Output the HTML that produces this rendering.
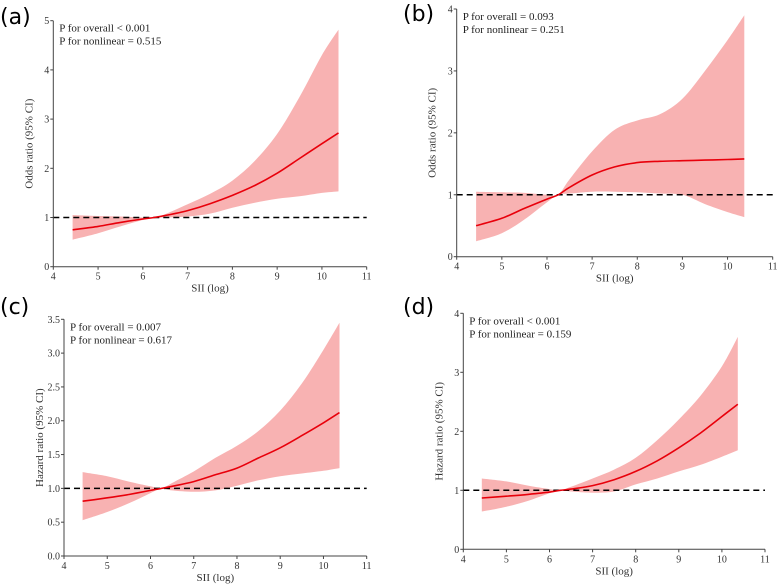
<!DOCTYPE html>
<html><head><meta charset="utf-8"><style>
html,body{margin:0;padding:0;background:#fff;}
svg{display:block;font-family:"Liberation Serif",serif;}
.pl{font-family:"DejaVu Sans","Liberation Sans",sans-serif;font-size:22px;}
</style></head><body>
<svg id="chart" width="777" height="584" viewBox="0 0 777 584"></svg>
<script>
const xs = [4.43,5,5.5,6,6.25,6.5,7,7.5,8,8.5,9,9.5,10,10.37];
const aEst = [0.75,0.82,0.9,0.97,1.0,1.04,1.14,1.28,1.45,1.65,1.9,2.2,2.5,2.72];
const aLo = [0.55,0.68,0.82,0.95,1.0,1.0,1.02,1.08,1.2,1.3,1.38,1.43,1.5,1.53];
const aHi = [1.05,1.03,1.02,1.0,1.0,1.07,1.27,1.48,1.75,2.15,2.7,3.45,4.3,4.82];
const bEst = [0.5,0.62,0.78,0.93,1.0,1.12,1.32,1.45,1.52,1.54,1.55,1.56,1.57,1.58];
const bLo = [0.25,0.38,0.6,0.88,1.0,1.02,1.05,1.05,1.04,1.02,1.0,0.85,0.72,0.64];
const bHi = [1.05,1.04,1.03,1.0,1.0,1.25,1.7,2.05,2.2,2.3,2.55,3.0,3.5,3.9];
const cEst = [0.81,0.86,0.91,0.97,1.0,1.03,1.1,1.2,1.3,1.45,1.6,1.78,1.97,2.12];
const cLo = [0.53,0.65,0.78,0.93,1.0,0.97,0.95,0.97,1.04,1.12,1.18,1.22,1.26,1.3];
const cHi = [1.24,1.18,1.1,1.03,1.0,1.08,1.25,1.45,1.63,1.85,2.15,2.55,3.05,3.45];
const dEst = [0.87,0.9,0.93,0.97,1.0,1.02,1.08,1.18,1.32,1.5,1.72,1.97,2.25,2.46];
const dLo = [0.64,0.72,0.82,0.95,1.0,0.98,0.96,0.98,1.1,1.2,1.32,1.43,1.57,1.68];
const dHi = [1.2,1.15,1.08,1.02,1.0,1.06,1.2,1.35,1.55,1.85,2.2,2.6,3.1,3.6];
const xTicks = [4,5,6,7,8,9,10,11];
const yTicksA = ["0","1","2","3","4","5"];
const yTicksB = ["0","1","2","3","4"];
const yTicksC = ["0.0","0.5","1.0","1.5","2.0","2.5","3.0","3.5"];
const yTicksD = ["0","1","2","3","4"];
const panels = [
 {id:"a",x0:53.3,x1:366.7,y0:266.7,y1:20.7,ymax:5,ticks:yTicksA,est:aEst,lo:aLo,hi:aHi,yt:"Odds ratio (95% CI)",p1:"P for overall < 0.001",p2:"P for nonlinear = 0.515",lx:0,ly:24},
 {id:"b",x0:456.7,x1:772.7,y0:256.7,y1:9,ymax:4,ticks:yTicksB,est:bEst,lo:bLo,hi:bHi,yt:"Odds ratio (95% CI)",p1:"P for overall = 0.093",p2:"P for nonlinear = 0.251",lx:403,ly:21},
 {id:"c",x0:64,x1:366.7,y0:556,y1:319.3,ymax:3.5,ticks:yTicksC,est:cEst,lo:cLo,hi:cHi,yt:"Hazard ratio (95% CI)",p1:"P for overall = 0.007",p2:"P for nonlinear = 0.617",lx:0,ly:314},
 {id:"d",x0:463.3,x1:765,y0:549.3,y1:313.3,ymax:4,ticks:yTicksD,est:dEst,lo:dLo,hi:dHi,yt:"Hazard ratio (95% CI)",p1:"P for overall < 0.001",p2:"P for nonlinear = 0.159",lx:403,ly:314}
];
const svg=document.getElementById('chart');
const NS="http://www.w3.org/2000/svg";
function mk(tag,attrs,parent,txt){const e=document.createElementNS(NS,tag);for(const k in attrs)e.setAttribute(k,attrs[k]);if(txt!==undefined)e.textContent=txt;parent.appendChild(e);return e;}
function spline(pts,move){
 let d=move?"M"+pts[0][0].toFixed(1)+","+pts[0][1].toFixed(1):"L"+pts[0][0].toFixed(1)+","+pts[0][1].toFixed(1);
 for(let i=0;i<pts.length-1;i++){
  const p0=pts[Math.max(i-1,0)],p1=pts[i],p2=pts[i+1],p3=pts[Math.min(i+2,pts.length-1)];
  const c1x=p1[0]+(p2[0]-p0[0])/6,c1y=p1[1]+(p2[1]-p0[1])/6;
  const c2x=p2[0]-(p3[0]-p1[0])/6,c2y=p2[1]-(p3[1]-p1[1])/6;
  d+="C"+c1x.toFixed(1)+","+c1y.toFixed(1)+" "+c2x.toFixed(1)+","+c2y.toFixed(1)+" "+p2[0].toFixed(1)+","+p2[1].toFixed(1);
 }
 return d;
}
panels.forEach(p=>{
 const g=mk('g',{},svg);
 
 
 const sx=v=>p.x0+(v-4)/7*(p.x1-p.x0);
 const sy=v=>p.y0-(v/p.ymax)*(p.y0-p.y1);
 const hiPts=xs.map((x,i)=>[sx(x),sy(p.hi[i])]);
 const loPts=xs.map((x,i)=>[sx(x),sy(p.lo[i])]).reverse();
 const band=mk('path',{d:spline(hiPts,true)+spline(loPts,false)+"Z",fill:"#f8b2b2",stroke:"none"},g);
 
 
 const ref=mk('line',{x1:p.x0,x2:p.x1,y1:sy(1),y2:sy(1),stroke:"#000","stroke-width":1.5,"stroke-dasharray":"6,4"},g);
 
 
 const ln=mk('path',{d:spline(xs.map((x,i)=>[sx(x),sy(p.est[i])]),true),fill:"none",stroke:"#e8000b","stroke-width":1.6},g);
 
 
 mk('line',{x1:p.x0,x2:p.x0,y1:p.y1,y2:p.y0,stroke:"#444","stroke-width":1},g);
 mk('line',{x1:p.x0,x2:p.x1,y1:p.y0,y2:p.y0,stroke:"#444","stroke-width":1},g);
 xTicks.forEach(t=>{const x=sx(t);mk('line',{x1:x,x2:x,y1:p.y0,y2:p.y0+3,stroke:"#444"},g);
  const tl=mk('text',{x:x,y:p.y0+13,"font-size":10,"text-anchor":"middle",fill:"#333"},g,String(t));
  });
 p.ticks.forEach((t,i)=>{const y=sy(parseFloat(t));mk('line',{x1:p.x0-3,x2:p.x0,y1:y,y2:y,stroke:"#444"},g);
  const tl=mk('text',{x:p.x0-4,y:y+3.5,"font-size":10,"text-anchor":"end",fill:"#333"},g,t);
  });
 const xt=mk('text',{x:(p.x0+p.x1)/2,y:p.y0+25,"font-size":11,"text-anchor":"middle",fill:"#333"},g,"SII (log)");
 
 const cy=(p.y0+p.y1)/2,cx=p.x0-21;
 const yt=mk('text',{x:cx,y:cy,"font-size":11,"text-anchor":"middle",fill:"#333",transform:"rotate(-90 "+cx+" "+cy+")"},g,p.yt);
 
 const a1=mk('text',{x:p.x0+6,y:p.y1+11,"font-size":11,fill:"#222"},g,p.p1);
 
 const a2=mk('text',{x:p.x0+6,y:p.y1+24,"font-size":11,fill:"#222"},g,p.p2);
 
 const lb=mk('text',{x:p.lx,y:p.ly,"class":"pl",fill:"#000"},g,"("+p.id+")");
 
});
</script>
</body></html>
